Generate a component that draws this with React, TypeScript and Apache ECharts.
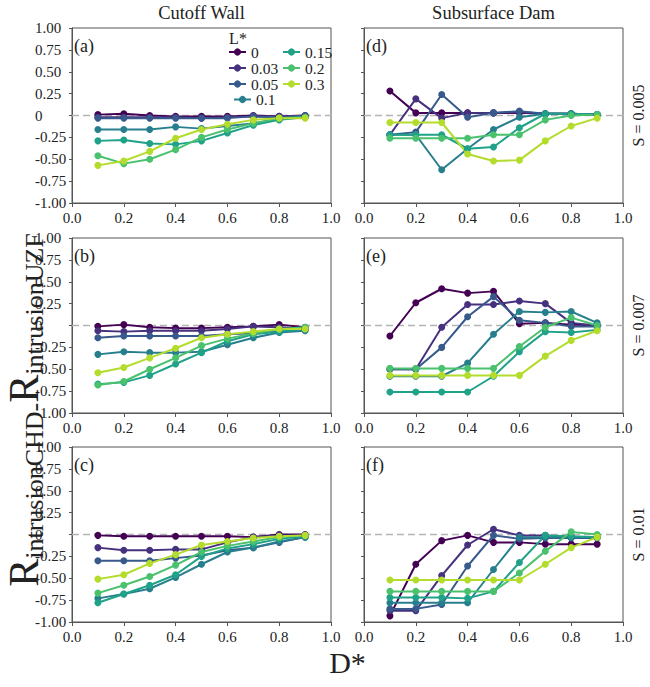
import React, { useEffect, useRef } from 'react';
import * as echarts from 'echarts';

const SERIF = '"Liberation Serif", "DejaVu Serif", serif';

const dStar = [0.1, 0.2, 0.3, 0.4, 0.5, 0.6, 0.7, 0.8, 0.9];
const lStar = ['0', '0.03', '0.05', '0.1', '0.15', '0.2', '0.3'];
const lineColors = ['#440154', '#46317e', '#37598c', '#277f8e', '#1fa288', '#4ac16d', '#b3dc2c'];
const columnTitles = ['Cutoff Wall', 'Subsurface Dam'];
const rowLabels = ['S = 0.005', 'S = 0.007', 'S = 0.01'];
const panelTags = ['(a)', '(b)', '(c)', '(d)', '(e)', '(f)'];

// (a) Cutoff wall, S = 0.005  (one row per L*)
const panelA = [
  [0.01, 0.02, 0, -0.01, -0.01, -0.01, 0, -0.01, 0],
  [-0.02, -0.02, -0.02, -0.02, -0.03, -0.02, -0.01, -0.01, -0.01],
  [-0.03, -0.03, -0.03, -0.03, -0.03, -0.03, -0.01, -0.02, 0],
  [-0.16, -0.16, -0.16, -0.13, -0.15, -0.12, -0.09, -0.04, -0.02],
  [-0.29, -0.28, -0.32, -0.33, -0.29, -0.2, -0.11, -0.05, -0.02],
  [-0.46, -0.55, -0.5, -0.39, -0.25, -0.16, -0.09, -0.03, -0.02],
  [-0.57, -0.52, -0.41, -0.26, -0.16, -0.1, -0.05, -0.03, -0.03],
];
// (b) Cutoff wall, S = 0.007
const panelB = [
  [-0.01, 0.01, -0.02, -0.03, -0.03, -0.02, -0.01, 0.01, -0.02],
  [-0.06, -0.07, -0.06, -0.06, -0.06, -0.04, -0.01, -0.02, -0.04],
  [-0.14, -0.12, -0.12, -0.12, -0.12, -0.1, -0.09, -0.07, -0.05],
  [-0.33, -0.3, -0.31, -0.31, -0.3, -0.22, -0.14, -0.08, -0.06],
  [-0.67, -0.65, -0.57, -0.44, -0.31, -0.18, -0.1, -0.07, -0.04],
  [-0.68, -0.64, -0.5, -0.37, -0.23, -0.15, -0.09, -0.04, -0.02],
  [-0.54, -0.48, -0.37, -0.26, -0.14, -0.1, -0.07, -0.04, -0.04],
];
// (c) Cutoff wall, S = 0.01
const panelC = [
  [-0.01, -0.02, -0.02, -0.02, -0.02, -0.02, -0.03, 0, 0],
  [-0.15, -0.18, -0.18, -0.17, -0.17, -0.09, -0.03, -0.01, -0.01],
  [-0.3, -0.3, -0.3, -0.27, -0.24, -0.18, -0.15, -0.09, -0.03],
  [-0.73, -0.68, -0.62, -0.49, -0.34, -0.2, -0.15, -0.08, -0.03],
  [-0.78, -0.68, -0.58, -0.46, -0.25, -0.16, -0.11, -0.05, -0.02],
  [-0.67, -0.58, -0.48, -0.35, -0.2, -0.13, -0.08, -0.03, -0.01],
  [-0.51, -0.46, -0.33, -0.23, -0.12, -0.08, -0.04, -0.02, -0.01],
];
// (d) Subsurface dam, S = 0.005
const panelD = [
  [0.28, 0.03, 0.03, 0.03, 0.03, 0.03, 0.02, 0.02, 0.01],
  [-0.22, 0.19, -0.03, 0.03, 0.03, 0.04, 0.02, 0.02, 0.01],
  [-0.22, -0.19, 0.24, -0.02, 0.03, 0.05, 0.02, 0.02, 0.01],
  [-0.22, -0.22, -0.62, -0.38, -0.16, -0.02, 0.02, 0.02, 0.01],
  [-0.22, -0.22, -0.22, -0.38, -0.36, -0.14, 0.02, 0.02, 0.01],
  [-0.26, -0.26, -0.26, -0.26, -0.22, -0.22, -0.05, 0, 0.01],
  [-0.08, -0.08, -0.08, -0.44, -0.52, -0.51, -0.29, -0.12, -0.03],
];
// (e) Subsurface dam, S = 0.007
const panelE = [
  [-0.12, 0.26, 0.42, 0.37, 0.39, 0.02, 0.03, 0.01, 0],
  [-0.5, -0.5, -0.02, 0.24, 0.24, 0.28, 0.25, 0.03, 0],
  [-0.5, -0.5, -0.25, 0.1, 0.33, 0.06, 0.03, -0.01, -0.01],
  [-0.58, -0.58, -0.58, -0.43, -0.1, 0.16, 0.15, 0.16, 0.03],
  [-0.76, -0.76, -0.76, -0.76, -0.58, -0.3, -0.07, -0.08, -0.05],
  [-0.49, -0.49, -0.49, -0.49, -0.49, -0.24, -0.02, 0.09, 0],
  [-0.57, -0.57, -0.57, -0.57, -0.57, -0.57, -0.35, -0.17, -0.06],
];
// (f) Subsurface dam, S = 0.01
const panelF = [
  [-0.93, -0.34, -0.07, -0.01, -0.09, -0.09, -0.11, -0.11, -0.11],
  [-0.87, -0.87, -0.47, -0.12, 0.06, -0.01, -0.01, -0.03, -0.03],
  [-0.85, -0.85, -0.8, -0.36, -0.01, -0.05, -0.04, -0.04, -0.04],
  [-0.78, -0.78, -0.78, -0.78, -0.4, -0.03, -0.03, -0.03, -0.03],
  [-0.72, -0.72, -0.72, -0.73, -0.65, -0.32, -0.01, -0.02, -0.03],
  [-0.65, -0.65, -0.65, -0.65, -0.65, -0.44, -0.19, 0.03, 0],
  [-0.52, -0.52, -0.52, -0.52, -0.52, -0.52, -0.34, -0.15, -0.03],
];

const panels = [
  { data: panelA, row: 0, col: 0 },
  { data: panelB, row: 1, col: 0 },
  { data: panelC, row: 2, col: 0 },
  { data: panelD, row: 0, col: 1 },
  { data: panelE, row: 1, col: 1 },
  { data: panelF, row: 2, col: 1 },
];

const ROW_TOP = [28, 238, 447];
const COL_LEFT = [72, 364];
const GW = 259;
const GH = 175;

function buildOption(): any {
  const grid = panels.map((p) => ({
    left: COL_LEFT[p.col],
    top: ROW_TOP[p.row],
    width: GW,
    height: GH,
    show: true,
    borderColor: '#555',
    borderWidth: 1,
    backgroundColor: 'transparent',
  }));
  const xAxis = panels.map((p, i) => ({
    type: 'value',
    gridIndex: i,
    min: 0,
    max: 1,
    interval: 0.2,
    axisLine: { show: true, onZero: false, lineStyle: { color: '#555', width: 1 } },
    axisTick: { show: true, length: 4, lineStyle: { color: '#555' } },
    splitLine: { show: false },
    axisLabel: {
      formatter: (v: number) => v.toFixed(1),
      fontFamily: SERIF,
      fontSize: 15,
      color: '#222',
      margin: 7,
    },
  }));
  const yAxis = panels.map((p, i) => ({
    type: 'value',
    gridIndex: i,
    min: -1,
    max: 1,
    interval: 0.25,
    axisLine: { show: true, onZero: false, lineStyle: { color: '#555', width: 1 } },
    axisTick: { show: true, length: 3, lineStyle: { color: '#555' } },
    splitLine: { show: false },
    axisLabel: {
      show: p.col === 0,
      formatter: (v: number) => (Math.abs(v) < 1e-9 ? '0' : v.toFixed(2)),
      fontFamily: SERIF,
      fontSize: 15,
      color: '#222',
      align: 'left',
      margin: 37,
    },
  }));
  const series: any[] = [];
  panels.forEach((p, i) => {
    series.push({
      type: 'line',
      xAxisIndex: i,
      yAxisIndex: i,
      data: [[0, 0], [1.045, 0]],
      symbol: 'none',
      silent: true,
      clip: false,
      z: 1,
      lineStyle: { color: '#b4b4b4', width: 1.5, type: [7, 4] },
    });
    p.data.forEach((vals, j) => {
      series.push({
        type: 'line',
        name: lStar[j],
        xAxisIndex: i,
        yAxisIndex: i,
        data: dStar.map((x, k) => [x, vals[k]]),
        symbol: 'circle',
        symbolSize: 7,
        color: lineColors[j],
        itemStyle: { color: lineColors[j] },
        lineStyle: { color: lineColors[j], width: 2 },
        z: 3,
      });
    });
  });

  const legendBase = {
    orient: 'vertical',
    padding: 0,
    itemGap: 0,
    itemWidth: 17,
    itemHeight: 9,
    textStyle: { fontFamily: SERIF, fontSize: 15.5, color: '#222', lineHeight: 15.5 },
  };
  const legend = [
    { ...legendBase, data: lStar.slice(0, 3), left: 228, top: 44 },
    { ...legendBase, data: lStar.slice(3, 4), left: 233, top: 91.5 },
    { ...legendBase, data: lStar.slice(4), left: 282, top: 44 },
  ];

  const graphic: any[] = [];
  columnTitles.forEach((t, c) => {
    graphic.push({
      type: 'text',
      x: COL_LEFT[c] + GW / 2,
      y: 13,
      style: { text: t, fontFamily: SERIF, fontSize: 18.5, fill: '#222', align: 'center', verticalAlign: 'middle' },
    });
  });
  rowLabels.forEach((t, r) => {
    graphic.push({
      type: 'text',
      x: 638,
      y: ROW_TOP[r] + GH / 2,
      rotation: Math.PI / 2,
      style: { text: t, fontFamily: SERIF, fontSize: 16, fill: '#222', align: 'center', verticalAlign: 'middle' },
    });
  });
  panels.forEach((p, i) => {
    graphic.push({
      type: 'text',
      x: COL_LEFT[p.col] + 2,
      y: ROW_TOP[p.row] + 18,
      style: { text: panelTags[i], fontFamily: SERIF, fontSize: 18, fill: '#222', align: 'left', verticalAlign: 'middle' },
    });
  });
  graphic.push({
    type: 'text',
    x: 238,
    y: 38,
    style: { text: 'L*', fontFamily: SERIF, fontSize: 16, fill: '#222', align: 'center', verticalAlign: 'middle' },
  });
  graphic.push({
    type: 'text',
    x: COL_LEFT[0] + (COL_LEFT[1] + GW - COL_LEFT[0]) / 2,
    y: 662,
    style: { text: 'D*', fontFamily: SERIF, fontSize: 30, fill: '#222', align: 'center', verticalAlign: 'middle' },
  });
  graphic.push({
    type: 'text',
    x: 25,
    y: 410,
    rotation: Math.PI / 2,
    style: {
      text: '{r|R}{s|intrusionCHD-}{r|R}{s|intrusionUZF}',
      fontFamily: SERIF,
      fill: '#222',
      align: 'center',
      verticalAlign: 'middle',
      rich: {
        r: { fontFamily: SERIF, fontSize: 42, fill: '#222', lineHeight: 44, verticalAlign: 'top' },
        s: { fontFamily: SERIF, fontSize: 26, fill: '#222', lineHeight: 44, verticalAlign: 'bottom' },
      },
    },
  });

  return { animation: false, grid, xAxis, yAxis, series, legend, graphic };
}

export default function App() {
  const ref = useRef<HTMLDivElement>(null);
  useEffect(() => {
    if (!ref.current) return;
    const chart = echarts.init(ref.current, null, { renderer: 'svg' });
    chart.setOption(buildOption());
    return () => chart.dispose();
  }, []);
  return <div ref={ref} style={{ position: 'absolute', left: 0, top: 0, width: 650, height: 687 }} />;
}
